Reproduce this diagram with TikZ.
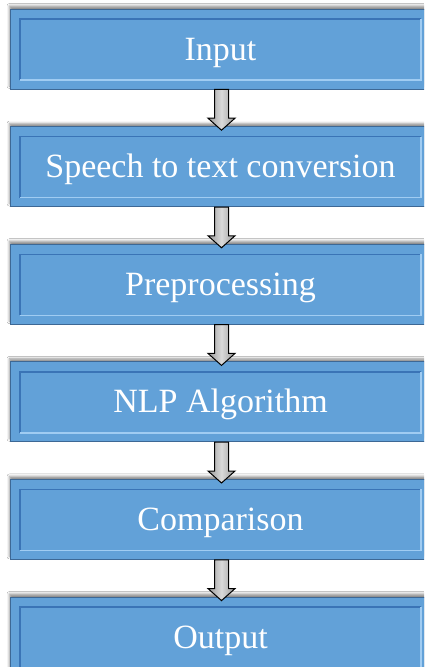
\documentclass[tikz,border=0pt]{standalone}
\usepackage{fontspec}
\setmainfont{Liberation Serif}
\usetikzlibrary{calc,shadows.blur}
\definecolor{boxblue}{RGB}{98,161,216}
\definecolor{bevdark}{RGB}{58,116,182}
\definecolor{bevlight}{RGB}{160,204,242}
\definecolor{edgedark}{RGB}{45,80,120}
\definecolor{arrowgray}{RGB}{192,192,192}
\tikzset{
  stagebox/.style={
    rectangle, fill=boxblue, minimum width=421pt, minimum height=80pt,
    inner sep=0pt, draw=edgedark!70!boxblue, line width=0.8pt,
    blur shadow={shadow xshift=-0.5pt, shadow yshift=3pt,
                 shadow blur radius=2.5pt, shadow opacity=45},
    path picture={
      \draw[bevdark, line width=1.4pt]
        ([shift={(10,-9)}]path picture bounding box.south west)
        |- ([shift={(-10,10)}]path picture bounding box.north east);
      \draw[bevlight, line width=1.4pt]
        ([shift={(10,-9)}]path picture bounding box.south west)
        -| ([shift={(-10,10)}]path picture bounding box.north east);
      \draw[edgedark, line width=2.4pt]
        (path picture bounding box.south west)
        -- (path picture bounding box.north west);
    }
  },
  stagetext/.style={anchor=base, text=white, font=\fontsize{34}{34}\selectfont},
  flowarrow/.style={draw=black, line width=1pt, line join=miter,
    left color=arrowgray!80!black, right color=arrowgray!80!black,
    middle color=arrowgray!60!white}
}
\begin{document}
\begin{tikzpicture}[x=1pt,y=-1pt]
  \useasboundingbox (0,0) rectangle (424,667);
  \clip (0,0) rectangle (424,667);
  \fill[white] (0,0) rectangle (424,667);

  % the six stages, top to bottom
  \foreach \i/\name/\label in {0/b1/Input, 1/b2/Speech to text conversion,
      2/b3/Preprocessing, 3/b4/NLP Algorithm, 4/b5/Comparison, 5/b6/Output}{
    \node[stagebox] (\name) at (220.5, 49 + 117.6*\i) {};
    \node[stagetext] (\name t) at (220.5, 60 + 117.6*\i) {\label};
  }

  % block arrows between consecutive stages
  \foreach \a/\b in {b1/b2, b2/b3, b3/b4, b4/b5, b5/b6}{
    \draw[flowarrow]
      ($(\a.south)+(-6,0)$) -- ($(\b.north)+(-6,-8)$)
      -- ($(\b.north)+(-12.5,-8)$) -- ($(\b.north)+(1,4)$)
      -- ($(\b.north)+(14.5,-8)$) -- ($(\b.north)+(8,-8)$)
      -- ($(\a.south)+(8,0)$) -- cycle;
  }
\end{tikzpicture}
\end{document}
